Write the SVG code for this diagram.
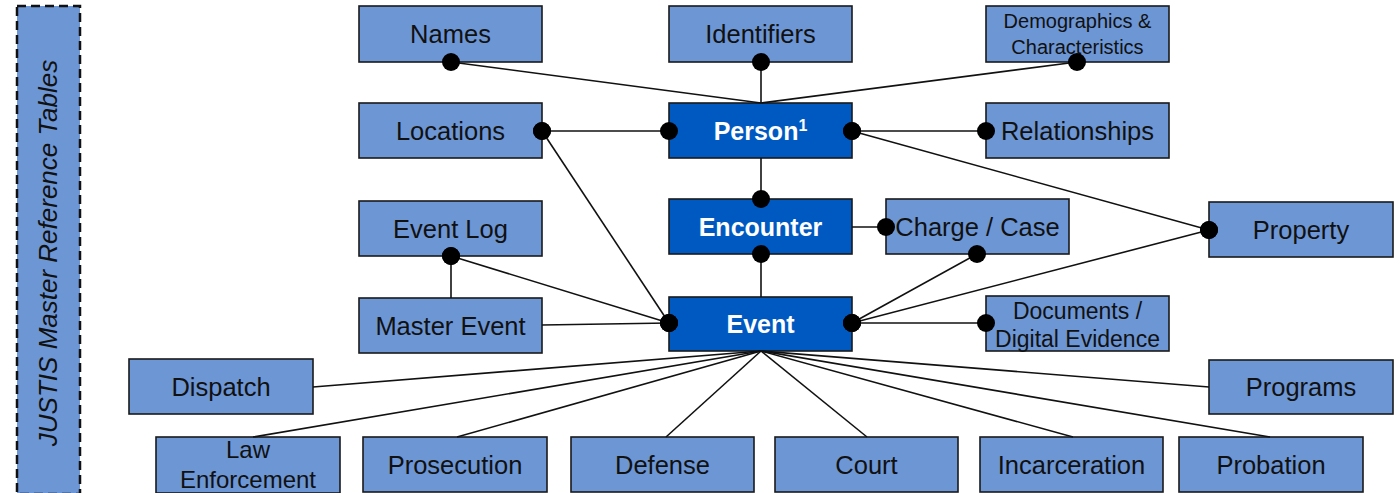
<svg xmlns="http://www.w3.org/2000/svg" width="1400" height="493" viewBox="0 0 1400 493">
  <style>
    .box { fill: #6D96D5; stroke: #1a1a1a; stroke-width: 1.6; }
    .core { fill: #0059C1; stroke: #1a1a1a; stroke-width: 1.6; }
    .lbl { font-family: "Liberation Sans", Arial, sans-serif; font-size: 25.5px; fill: #111; text-anchor: middle; }
    .sm { font-size: 20px; }
    .md { font-size: 23px; }
    .lw { font-size: 24px; }
    .corelbl { font-family: "Liberation Sans", Arial, sans-serif; font-size: 25px; font-weight: bold; fill: #ffffff; text-anchor: middle; }
    .sup { font-size: 16px; }
    .side { fill: #6D96D5; stroke: #111; stroke-width: 2.5; stroke-dasharray: 9 5; }
    .sidelbl { font-family: "Liberation Sans", Arial, sans-serif; font-size: 26px; font-style: italic; fill: #111; text-anchor: middle; }
    .conn line { stroke: #111; stroke-width: 1.6; fill: none; }
  </style>
  <defs>
    <marker id="dot" markerUnits="userSpaceOnUse" markerWidth="20" markerHeight="20" refX="10" refY="10" overflow="visible">
      <circle cx="10" cy="10" r="9" fill="#000"/>
    </marker>
  </defs>

  <g id="side-panel">
    <rect class="side" x="17" y="6" width="63" height="488"/>
    <text class="sidelbl" transform="translate(57,253) rotate(-90)">JUSTIS Master Reference Tables</text>
  </g>

  <g id="names"><rect class="box" x="359" y="6" width="183" height="56"/><text class="lbl" x="450.5" y="43">Names</text></g>
  <g id="identifiers"><rect class="box" x="669" y="6" width="183" height="56"/><text class="lbl" x="760.5" y="43">Identifiers</text></g>
  <g id="demographics"><rect class="box" x="986" y="6" width="183" height="56"/><text class="lbl sm" x="1077.5" y="28">Demographics &amp;</text><text class="lbl sm" x="1077.5" y="54">Characteristics</text></g>
  <g id="locations"><rect class="box" x="359" y="103" width="183" height="55"/><text class="lbl" x="450.5" y="140">Locations</text></g>
  <g id="person"><rect class="core" x="669" y="103" width="183" height="55"/><text class="corelbl" x="760.5" y="140">Person<tspan class="sup" dy="-9">1</tspan></text></g>
  <g id="relationships"><rect class="box" x="986" y="103" width="183" height="55"/><text class="lbl" x="1077.5" y="140">Relationships</text></g>
  <g id="event-log"><rect class="box" x="359" y="201" width="183" height="55"/><text class="lbl" x="450.5" y="238">Event Log</text></g>
  <g id="encounter"><rect class="core" x="669" y="199" width="183" height="55"/><text class="corelbl" x="760.5" y="236">Encounter</text></g>
  <g id="charge-case"><rect class="box" x="886" y="199" width="183" height="55"/><text class="lbl" x="977.5" y="236">Charge / Case</text></g>
  <g id="property"><rect class="box" x="1209" y="202" width="184" height="55"/><text class="lbl" x="1301" y="239">Property</text></g>
  <g id="master-event"><rect class="box" x="359" y="298" width="183" height="55"/><text class="lbl" x="450.5" y="335">Master Event</text></g>
  <g id="event"><rect class="core" x="669" y="297" width="183" height="54"/><text class="corelbl" x="760.5" y="333">Event</text></g>
  <g id="documents"><rect class="box" x="986" y="296" width="183" height="55"/><text class="lbl md" x="1077.5" y="319">Documents /</text><text class="lbl md" x="1077.5" y="347">Digital Evidence</text></g>
  <g id="dispatch"><rect class="box" x="129" y="359" width="184" height="55"/><text class="lbl" x="221" y="396">Dispatch</text></g>
  <g id="programs"><rect class="box" x="1209" y="360" width="184" height="54"/><text class="lbl" x="1301" y="396">Programs</text></g>
  <g id="law-enforcement"><rect class="box" x="156" y="437" width="184" height="56"/><text class="lbl lw" x="248" y="458">Law</text><text class="lbl lw" x="248" y="488">Enforcement</text></g>
  <g id="prosecution"><rect class="box" x="363" y="437" width="184" height="55"/><text class="lbl" x="455" y="474">Prosecution</text></g>
  <g id="defense"><rect class="box" x="571" y="437" width="183" height="55"/><text class="lbl" x="662.5" y="474">Defense</text></g>
  <g id="court"><rect class="box" x="775" y="437" width="183" height="55"/><text class="lbl" x="866.5" y="474">Court</text></g>
  <g id="incarceration"><rect class="box" x="980" y="437" width="183" height="55"/><text class="lbl" x="1071.5" y="474">Incarceration</text></g>
  <g id="probation"><rect class="box" x="1179" y="437" width="184" height="55"/><text class="lbl" x="1271" y="474">Probation</text></g>

  <g id="connectors" class="conn">
    <line x1="451" y1="62" x2="761" y2="103" marker-start="url(#dot)"/>
    <line x1="761" y1="62" x2="761" y2="103" marker-start="url(#dot)"/>
    <line x1="1077" y1="62" x2="761" y2="103" marker-start="url(#dot)"/>
    <line x1="542" y1="131" x2="669" y2="131" marker-start="url(#dot)" marker-end="url(#dot)"/>
    <line x1="852" y1="131" x2="986" y2="131" marker-start="url(#dot)" marker-end="url(#dot)"/>
    <line x1="852" y1="131" x2="1209" y2="230" marker-start="url(#dot)" marker-end="url(#dot)"/>
    <line x1="542" y1="131" x2="669" y2="323" marker-start="url(#dot)" marker-end="url(#dot)"/>
    <line x1="761" y1="158" x2="761" y2="199" marker-end="url(#dot)"/>
    <line x1="852" y1="227" x2="886" y2="227" marker-end="url(#dot)"/>
    <line x1="761" y1="254" x2="761" y2="297" marker-start="url(#dot)"/>
    <line x1="977" y1="254" x2="852" y2="323" marker-start="url(#dot)" marker-end="url(#dot)"/>
    <line x1="1209" y1="230" x2="852" y2="323" marker-start="url(#dot)" marker-end="url(#dot)"/>
    <line x1="852" y1="323" x2="986" y2="323" marker-start="url(#dot)" marker-end="url(#dot)"/>
    <line x1="451" y1="256" x2="669" y2="323" marker-start="url(#dot)" marker-end="url(#dot)"/>
    <line x1="451" y1="256" x2="451" y2="298" marker-start="url(#dot)"/>
    <line x1="542" y1="325" x2="669" y2="323" marker-end="url(#dot)"/>
    <line x1="761" y1="351" x2="313" y2="387"/>
    <line x1="761" y1="351" x2="253" y2="437"/>
    <line x1="761" y1="351" x2="457" y2="437"/>
    <line x1="761" y1="351" x2="666" y2="437"/>
    <line x1="761" y1="351" x2="867" y2="437"/>
    <line x1="761" y1="351" x2="1073" y2="437"/>
    <line x1="761" y1="351" x2="1270" y2="437"/>
    <line x1="761" y1="351" x2="1209" y2="387"/>
  </g>
</svg>
